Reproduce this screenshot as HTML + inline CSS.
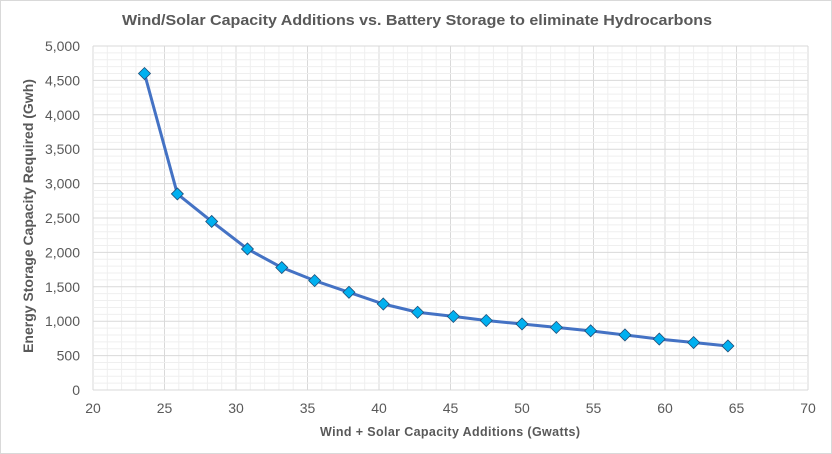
<!DOCTYPE html>
<html><head><meta charset="utf-8"><style>
body{margin:0;background:#fff;font-family:"Liberation Sans",Arial,sans-serif}
svg{display:block}
</style></head><body>
<svg id="c" width="832" height="454">
<rect x="0.5" y="0.5" width="831" height="453" fill="#fff" stroke="#d9d9d9"/>
<text x="417" y="25" text-anchor="middle" font-size="15" font-weight="bold" fill="#595959" textLength="590" lengthAdjust="spacingAndGlyphs">Wind/Solar Capacity Additions vs. Battery Storage to eliminate Hydrocarbons</text>
<g id="grid"></g>
<g id="ticks"></g>
<text x="450" y="436" text-anchor="middle" font-size="12.5" font-weight="bold" fill="#595959" textLength="260" lengthAdjust="spacing">Wind + Solar Capacity Additions (Gwatts)</text>
<text transform="translate(33,216) rotate(-90)" text-anchor="middle" font-size="14" font-weight="bold" fill="#595959">Energy Storage Capacity Required (Gwh)</text>
<g id="series"></g>
</svg>
<script>
const xVals=[23.6,25.9,28.3,30.8,33.2,35.5,37.9,40.3,42.7,45.2,47.5,50.0,52.4,54.8,57.2,59.6,62.0,64.4];
const yVals=[4600,2850,2450,2050,1780,1590,1420,1250,1130,1070,1010,960,910,860,800,740,690,640];
const xTicks=[20,25,30,35,40,45,50,55,60,65,70];
const yTicks=[0,500,1000,1500,2000,2500,3000,3500,4000,4500,5000];
const L=93,R=808,T=46,B=390;
const sx=v=>L+(v-20)/50*(R-L);
const sy=v=>B-v/5000*(B-T);
const NS="http://www.w3.org/2000/svg";
function mk(parent,tag,attrs){const e=document.createElementNS(NS,tag);for(const k in attrs)e.setAttribute(k,attrs[k]);parent.appendChild(e);return e;}
const g=document.getElementById('grid'),tk=document.getElementById('ticks'),s=document.getElementById('series');
for(let v=20;v<=70;v++){const x=sx(v);const l=mk(g,'line',{x1:x,x2:x,y1:T,y2:B,stroke:v%5?'#efefef':'#d9d9d9','stroke-width':1});

}
for(let v=0;v<=5000;v+=100){const y=sy(v);const l=mk(g,'line',{x1:L,x2:R,y1:y,y2:y,stroke:v%500?'#efefef':'#d9d9d9','stroke-width':1});

}
xTicks.forEach(v=>{const t=mk(tk,'text',{x:sx(v),y:413,'text-anchor':'middle','font-size':14,fill:'#595959'});t.textContent=v;

});
yTicks.forEach(v=>{const t=mk(tk,'text',{x:80,y:sy(v)+5,'text-anchor':'end','font-size':14,fill:'#595959'});t.textContent=v.toLocaleString('en-US');

});
const line=mk(s,'polyline',{points:xVals.map((x,i)=>sx(x)+','+sy(yVals[i])).join(' '),fill:'none',stroke:'#4472c4','stroke-width':3,'stroke-linejoin':'round'});


xVals.forEach((x,i)=>{const cx=sx(x),cy=sy(yVals[i]);const p=mk(s,'polygon',{points:`${cx},${cy-6} ${cx+6},${cy} ${cx},${cy+6} ${cx-6},${cy}`,fill:'#00b0f0',stroke:'#1f4e79','stroke-width':0.8});

});
</script>
</body></html>
